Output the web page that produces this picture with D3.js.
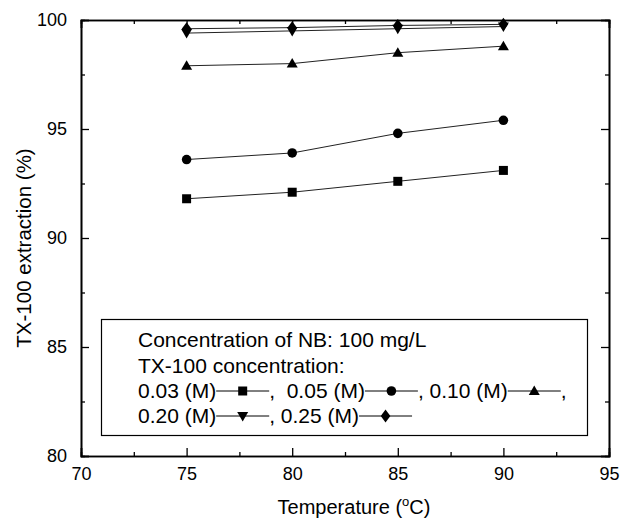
<!DOCTYPE html>
<html><head><meta charset="utf-8">
<script src="https://cdn.jsdelivr.net/npm/d3@7"></script>
<style>body{margin:0;background:#fff}svg{display:block}text{font-family:"Liberation Sans",Arial,sans-serif;fill:#000}</style>
</head><body>
<svg id="c" width="634" height="523"></svg>
<script>
const temperatures = [75, 80, 85, 90];
const seriesNames = ["0.03 (M)", "0.05 (M)", "0.10 (M)", "0.20 (M)", "0.25 (M)"];
const values003 = [91.8, 92.1, 92.6, 93.1];
const values005 = [93.6, 93.9, 94.8, 95.4];
const values010 = [97.9, 98.0, 98.5, 98.8];
const values020 = [99.4, 99.5, 99.6, 99.7];
const values025 = [99.6, 99.65, 99.75, 99.8];
const markerTypes = ["square", "circle", "triangle", "down", "diamond"];
const xTicks = [70, 75, 80, 85, 90, 95];
const yTicks = [80, 85, 90, 95, 100];
const legendTitle1 = "Concentration of NB: 100 mg/L";
const legendTitle2 = "TX-100 concentration:";
const xTitle = "Temperature (";
const yTitle = "TX-100 extraction (%)";

const allValues = [values003, values005, values010, values020, values025];
const svg = d3.select("#c");
const L = 81, R = 609, T = 20, B = 456;
const x = d3.scaleLinear().domain([70, 95]).range([L, R]);
const y = d3.scaleLinear().domain([80, 100]).range([B, T]);

function markerPath(type) {
  switch (type) {
    case "square": return "M-4.5,-4.5H4.5V4.5H-4.5Z";
    case "circle": return d3.symbol(d3.symbolCircle, 72)();
    case "triangle": return "M0,-5.5L5.5,4L-5.5,4Z";
    case "down": return "M0,5.5L5.5,-4L-5.5,-4Z";
    case "diamond": return "M0,-6.5L4.8,0L0,6.5L-4.8,0Z";
  }
}

// frame + axes
const minor = d3.range(72.5, 95, 5);
const minorY = d3.range(82.5, 100, 5);
const g = svg.append("g");
const axB = d3.axisBottom(x).tickValues(xTicks).tickSize(-8).tickPadding(11).tickFormat(d3.format("d"));
g.append("g").attr("transform", `translate(0,${B})`).call(axB);
g.append("g").attr("transform", `translate(0,${B})`).call(d3.axisBottom(x).tickValues(minor).tickSize(-4).tickFormat(""));
g.append("g").attr("transform", `translate(0,${T})`).call(d3.axisTop(x).tickValues(xTicks).tickSize(-8).tickFormat(""));
g.append("g").attr("transform", `translate(0,${T})`).call(d3.axisTop(x).tickValues(minor).tickSize(-4).tickFormat(""));
const axL = d3.axisLeft(y).tickValues(yTicks).tickSize(-8).tickPadding(14).tickFormat(d3.format("d"));
g.append("g").attr("transform", `translate(${L},0)`).call(axL);
g.append("g").attr("transform", `translate(${L},0)`).call(d3.axisLeft(y).tickValues(minorY).tickSize(-4).tickFormat(""));
g.append("g").attr("transform", `translate(${R},0)`).call(d3.axisRight(y).tickValues(yTicks).tickSize(-8).tickFormat(""));
g.append("g").attr("transform", `translate(${R},0)`).call(d3.axisRight(y).tickValues(minorY).tickSize(-4).tickFormat(""));
g.selectAll(".domain").attr("stroke", "#000").attr("stroke-width", 1.6);
g.selectAll(".tick line").attr("stroke", "#000").attr("stroke-width", 1.3);
g.selectAll(".tick text").style("font-size", "18px").attr("fill", "#000");

// series
const line = d3.line().x((d, i) => x(temperatures[i])).y(d => y(d));
allValues.forEach((vals, si) => {
  svg.append("path").attr("d", line(vals)).attr("fill", "none").attr("stroke", "#222").attr("stroke-width", 1);
});
allValues.forEach((vals, si) => {
  svg.selectAll(null).data(vals).enter().append("path")
    .attr("d", markerPath(markerTypes[si]))
    .attr("transform", (d, i) => `translate(${x(temperatures[i])},${y(d)})`)
    .attr("fill", "#000");
});

// axis titles
const xt = svg.append("text").attr("x", 354).attr("y", 514).attr("text-anchor", "middle").style("font-size", "20px");
xt.append("tspan").text(xTitle);
xt.append("tspan").attr("dy", -8).style("font-size", "13px").text("o");
xt.append("tspan").attr("dy", 8).text("C)");
svg.append("text").attr("transform", "translate(31,248) rotate(-90)").attr("text-anchor", "middle")
  .style("font-size", "20.5px").text(yTitle);

// legend
const lg = svg.append("g");
lg.append("rect").attr("x", 101.5).attr("y", 319.5).attr("width", 486).attr("height", 116)
  .attr("fill", "#fff").attr("stroke", "#000").attr("stroke-width", 1.2);
const fs = 21, lx = 138;
const rows = [347, 372.5, 398, 423];
lg.append("text").attr("x", lx).attr("y", rows[0]).style("font-size", fs + "px").text(legendTitle1);
lg.append("text").attr("x", lx).attr("y", rows[1]).style("font-size", fs + "px").text(legendTitle2);
const layout = [[0, 1, 2], [3, 4]];
const segLen = 53;
layout.forEach((row, ri) => {
  let cx = lx;
  const by = rows[ri + 2];
  row.forEach((si, k) => {
    const label = (k === 0 ? "" : (ri === 0 && k === 1 ? ",  " : ", ")) + seriesNames[si];
    const t = lg.append("text").attr("x", cx).attr("y", by).style("font-size", fs + "px").attr("xml:space", "preserve").text(label);
    cx += t.node().getComputedTextLength();
    const ly = by - 7;
    lg.append("line").attr("x1", cx).attr("x2", cx + segLen).attr("y1", ly).attr("y2", ly).attr("stroke", "#000").attr("stroke-width", 1);
    lg.append("path").attr("d", markerPath(markerTypes[si])).attr("transform", `translate(${cx + segLen / 2},${ly})`).attr("fill", "#000");
    cx += segLen;
  });
  if (ri === 0) lg.append("text").attr("x", cx).attr("y", by).style("font-size", fs + "px").text(",");
});
</script>
</body></html>
